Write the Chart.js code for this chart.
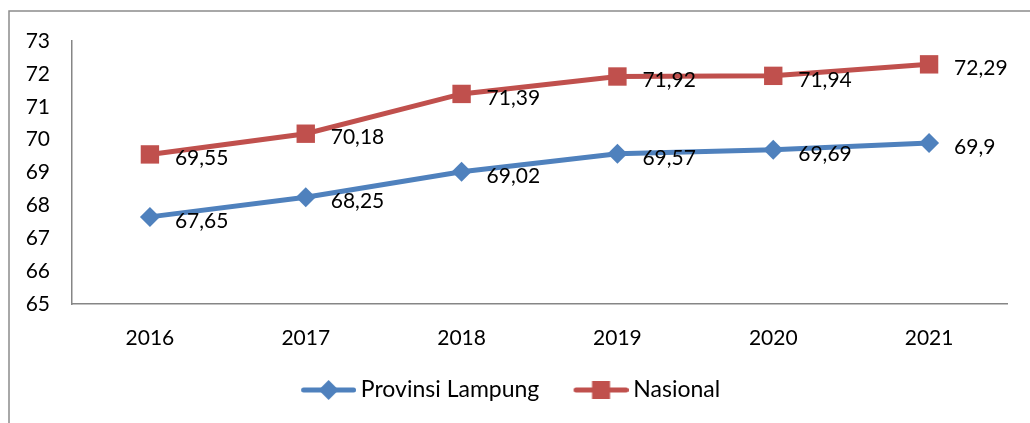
<!DOCTYPE html>
<html>
<head>
<meta charset="utf-8">
<script src="https://cdn.jsdelivr.net/npm/chart.js@4"></script>
<style>
  body { margin: 0; background: #fff; }
</style>
</head>
<body>
<canvas id="grafik" width="1030" height="423"></canvas>
<script>
const tahun = ['2016', '2017', '2018', '2019', '2020', '2021'];
const lampung = [67.65, 68.25, 69.02, 69.57, 69.69, 69.9];
const nasional = [69.55, 70.18, 71.39, 71.92, 71.94, 72.29];
const namaSeri = ['Provinsi Lampung', 'Nasional'];

const biru = '#4F81BD';
const merah = '#C0504D';
const huruf = 'Lato, "Open Sans", sans-serif';

// gambar kecil garis + penanda untuk legenda (ada ruang kosong di kiri)
function ikonLegenda(warna, bentuk) {
    const c = document.createElement('canvas');
    c.width = 76; c.height = 24;
    const g = c.getContext('2d');
    const a = 21, tengah = a + 27.5;
    g.strokeStyle = warna; g.lineWidth = 5; g.lineCap = 'round';
    g.beginPath(); g.moveTo(a + 2.5, 12); g.lineTo(a + 52.5, 12); g.stroke();
    g.fillStyle = warna;
    g.beginPath();
    if (bentuk === 'diamond') {
        g.moveTo(tengah, 2); g.lineTo(tengah + 10, 12); g.lineTo(tengah, 22); g.lineTo(tengah - 10, 12);
    } else {
        g.rect(tengah - 9, 3, 18, 18);
    }
    g.closePath(); g.fill();
    return c;
}
const ikon = [ikonLegenda(biru, 'diamond'), ikonLegenda(merah, 'square')];

const bingkai = {
    id: 'bingkai',
    beforeDraw(chart) {
        const ctx = chart.ctx;
        ctx.save();
        ctx.strokeStyle = '#8c8c8c';
        ctx.lineWidth = 1.5;
        ctx.beginPath();
        ctx.moveTo(9, 423); ctx.lineTo(9, 11); ctx.lineTo(1030, 11);
        ctx.stroke();
        ctx.restore();
    }
};

const labelNilai = {
    id: 'labelNilai',
    afterDatasetsDraw(chart) {
        const ctx = chart.ctx;
        ctx.save();
        ctx.font = '21px ' + huruf;
        ctx.fillStyle = '#000';
        ctx.textAlign = 'left';
        ctx.textBaseline = 'middle';
        chart.data.datasets.forEach((ds, i) => {
            chart.getDatasetMeta(i).data.forEach((pt, j) => {
                ctx.fillText(String(ds.data[j]).replace('.', ','), pt.x + 25, pt.y + 4);
            });
        });
        ctx.restore();
    }
};

new Chart(document.getElementById('grafik'), {
    type: 'line',
    data: {
        labels: tahun,
        datasets: [{
            label: namaSeri[0],
            data: lampung,
            borderColor: biru,
            backgroundColor: biru,
            borderWidth: 5,
            pointStyle: 'rectRot',
            pointRadius: 10,
            pointHoverRadius: 10,
            pointBorderWidth: 0,
            tension: 0
        }, {
            label: namaSeri[1],
            data: nasional,
            borderColor: merah,
            backgroundColor: merah,
            borderWidth: 5,
            pointStyle: 'rect',
            pointRadius: 13,
            pointHoverRadius: 13,
            pointBorderWidth: 0,
            tension: 0
        }]
    },
    options: {
        responsive: false,
        animation: false,
        layout: { padding: { top: 41, left: 0, right: 23, bottom: 11.5 } },
        scales: {
            x: {
                offset: true,
                grid: { display: false, drawTicks: false },
                border: { display: true, color: '#868686', width: 1.5 },
                ticks: { color: '#000', font: { family: huruf, size: 21 }, padding: 22 },
                afterFit(s) { s.height = 54.5; }
            },
            y: {
                min: 65,
                max: 73,
                grid: { display: false, drawTicks: false },
                border: { display: true, color: '#868686', width: 1.5 },
                ticks: { stepSize: 1, color: '#000', font: { family: huruf, size: 21 }, padding: 22 },
                afterFit(s) { s.width = 72; }
            }
        },
        plugins: {
            tooltip: { enabled: false },
            legend: {
                position: 'bottom',
                labels: {
                    color: '#000',
                    font: { family: huruf, size: 23 },
                    usePointStyle: true,
                    pointStyleWidth: 62.5,
                    boxHeight: 20,
                    padding: 20,
                    generateLabels(chart) {
                        const items = Chart.defaults.plugins.legend.labels.generateLabels(chart);
                        items.forEach((it, i) => { it.pointStyle = ikon[i]; });
                        return items;
                    }
                }
            }
        }
    },
    plugins: [bingkai, labelNilai]
});
</script>
</body>
</html>
